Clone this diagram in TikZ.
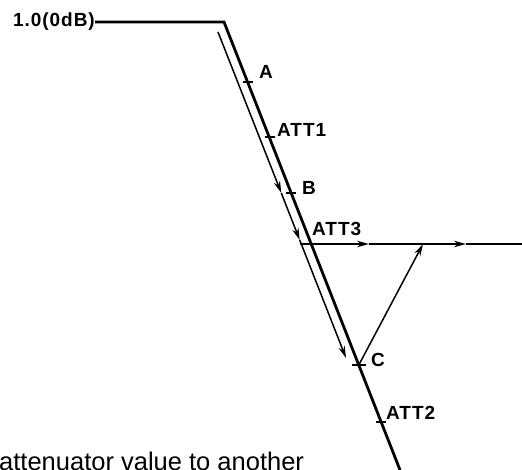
\documentclass[tikz,border=0pt]{standalone}
\usepackage{fontspec}
\setmainfont{Liberation Sans}
\newfontfamily\lblfont[LetterSpace=5]{Liberation Sans}
\usetikzlibrary{arrows.meta}
\begin{document}
\begin{tikzpicture}[x=1pt,y=-1pt,>={Stealth[length=12pt,width=6.5pt]},
  curve/.style={line width=2.8pt},
  flow/.style={line width=1.5pt},
  tick/.style={line width=1.5pt},
  lbl/.style={font=\lblfont\bfseries\fontsize{19}{19}\selectfont,inner sep=0pt,anchor=west}]
\useasboundingbox (0,0) rectangle (522,470);
\node[lbl,anchor=east] (zero) at (95,22){1.0(0dB)};
\coordinate (top) at (224,22);
\coordinate (bot) at (400,470);
\coordinate (A) at (247.6,82);
\coordinate (ATT1) at (269.6,137);
\coordinate (B) at (291,193);
\coordinate (C) at (358.8,365);
\coordinate (ATT2) at (381,422);
\draw[curve](zero.east) -- (top) -- (bot);
\draw[tick](A) ++(-5,0) -- ++(10,0);
\draw[tick](ATT1) ++(-5,0) -- ++(10,0);
\draw[tick](B) ++(-5,0) -- ++(10,0);
\draw[tick](C) ++(-7,0) -- ++(14,0);
\draw[tick](ATT2) ++(-5,0) -- ++(10,0);
\node[lbl] (lA) at (259,72){A};
\node[lbl] (lATT1) at (277,130){ATT1};
\node[lbl] (lB) at (302,188){B};
\node[lbl] (lATT3) at (312,229){ATT3};
\node[lbl] (lC) at (371,360){C};
\node[lbl] (lATT2) at (386,413){ATT2};
\coordinate (s0) at (218,32);
\coordinate (s1) at (281.3,193);
\coordinate (s2) at (299.7,240);
\coordinate (s3) at (346,358);
\draw[flow,->](s0) -- (s1);
\draw[flow,->](s1) -- (s2);
\draw[flow,->](s2) -- (s3);
\coordinate (h0) at (300,244);
\coordinate (h1) at (369,244);
\coordinate (h2) at (466,244);
\coordinate (h3) at (526,244);
\coordinate (hit) at (423,244);
\draw[flow,->](h0) -- (h1);
\draw[flow,->](h1) -- (h2);
\draw[flow](h2) -- (h3);
\draw[flow,->](C) -- (hit);
\node[anchor=base west,inner sep=0pt,font=\fontsize{25.5}{26}\selectfont] (note) at (-1,470.5){attenuator value to another};
\end{tikzpicture}
\end{document}
